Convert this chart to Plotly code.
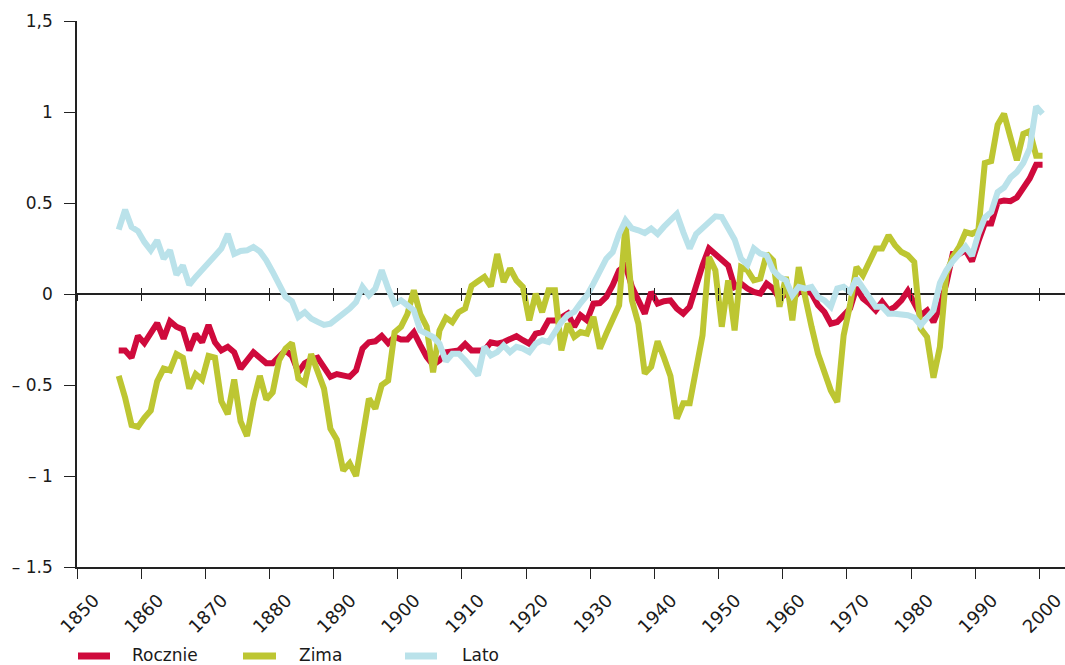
import plotly.graph_objects as go

# Temperature anomalies (°C), annual values 1856-2000
years = list(range(1856, 2001))

rocznie = [
    -0.31, -0.31, -0.35, -0.23, -0.27, -0.21, -0.16, -0.245, -0.15, -0.18,
    -0.195, -0.31, -0.22, -0.265, -0.17, -0.265, -0.31, -0.29, -0.32, -0.41,
    -0.37, -0.32, -0.35, -0.38, -0.38, -0.34, -0.31, -0.34, -0.43, -0.38,
    -0.36, -0.35, -0.41, -0.455, -0.44, -0.445, -0.455, -0.42, -0.30, -0.265,
    -0.26, -0.23, -0.27, -0.235, -0.25, -0.25, -0.21, -0.28, -0.345, -0.39,
    -0.365, -0.32, -0.315, -0.31, -0.275, -0.31, -0.31, -0.31, -0.265, -0.273,
    -0.264, -0.245, -0.232, -0.254, -0.273, -0.218, -0.209, -0.145, -0.145, -0.13,
    -0.108, -0.18, -0.117, -0.145, -0.053, -0.05, -0.016, 0.048, 0.13, 0.157,
    0.039, -0.035, -0.108, 0.011, -0.053, -0.04, -0.035, -0.08, -0.108, -0.07,
    0.05, 0.157, 0.25, 0.222, 0.185, 0.157, 0.039, 0.057, 0.03, 0.011,
    0.002, 0.057, 0.03, -0.025, 0.002, -0.031, 0.011, 0.02, 0.002, -0.062,
    -0.099, -0.163, -0.154, -0.117, -0.08, 0.035, -0.025, -0.053, -0.09, -0.044,
    -0.09, -0.07, -0.035, 0.017, -0.053, -0.117, -0.09, -0.154, -0.07, 0.057,
    0.22, 0.22, 0.24, 0.18, 0.29, 0.387, 0.387, 0.505, 0.514, 0.51,
    0.53, 0.585, 0.635, 0.71, 0.71,
]

zima = [
    -0.45, -0.57, -0.72, -0.73, -0.68, -0.64, -0.48, -0.41, -0.42, -0.33,
    -0.35, -0.52, -0.44, -0.47, -0.34, -0.35, -0.59, -0.66, -0.47, -0.70,
    -0.78, -0.59, -0.45, -0.58, -0.54, -0.365, -0.30, -0.27, -0.465, -0.49,
    -0.33, -0.42, -0.52, -0.74, -0.80, -0.97, -0.93, -1.0, -0.77, -0.575,
    -0.63, -0.50, -0.475, -0.21, -0.18, -0.11, 0.02, -0.11, -0.18, -0.43,
    -0.20, -0.13, -0.155, -0.10, -0.08, 0.045, 0.07, 0.094, 0.042, 0.22,
    0.066, 0.14, 0.075, 0.039, -0.145, 0.002, -0.1, 0.02, 0.02, -0.31,
    -0.163, -0.236, -0.209, -0.218, -0.126, -0.30, -0.218, -0.145, -0.062, 0.387,
    -0.035, -0.163, -0.437, -0.40, -0.26, -0.35, -0.45, -0.685, -0.60, -0.60,
    -0.42, -0.227, 0.203, 0.13, -0.18, 0.075, -0.2, 0.148, 0.13, 0.075,
    0.085, 0.22, 0.185, -0.07, 0.094, -0.145, 0.148, -0.025, -0.18, -0.328,
    -0.43, -0.53, -0.593, -0.227, -0.06, 0.148, 0.103, 0.185, 0.25, 0.25,
    0.322, 0.268, 0.231, 0.213, 0.176, -0.19, -0.236, -0.46, -0.29, 0.112,
    0.204, 0.259, 0.34, 0.33, 0.35, 0.72, 0.73, 0.93, 0.99, 0.86,
    0.735, 0.88, 0.895, 0.76, 0.76,
]

lato = [
    0.354, 0.463, 0.368, 0.346, 0.286, 0.24, 0.295, 0.194, 0.24, 0.106,
    0.157, 0.05, 0.094, 0.13, 0.17, 0.21, 0.25, 0.33, 0.22, 0.236,
    0.24, 0.258, 0.234, 0.185, 0.121, 0.057, -0.015, -0.04, -0.126, -0.1,
    -0.135, -0.153, -0.17, -0.163, -0.14, -0.108, -0.08, -0.044, 0.039, -0.007,
    0.03, 0.13, 0.03, -0.053, -0.035, -0.06, -0.09, -0.2, -0.22, -0.236,
    -0.273, -0.37, -0.328, -0.328, -0.364, -0.40, -0.447, -0.29, -0.337, -0.319,
    -0.282, -0.319, -0.29, -0.30, -0.319, -0.273, -0.254, -0.264, -0.209, -0.154,
    -0.117, -0.099, -0.05, -0.007, 0.057, 0.13, 0.194, 0.23, 0.33, 0.405,
    0.36, 0.35, 0.335, 0.36, 0.33, 0.37, 0.40, 0.44, 0.34, 0.25,
    0.33, 0.36, 0.395, 0.427, 0.423, 0.368, 0.30, 0.194, 0.16, 0.25,
    0.222, 0.212, 0.13, 0.094, 0.075, -0.007, 0.039, 0.03, 0.039, -0.016,
    -0.035, -0.07, 0.03, 0.039, 0.011, 0.085, 0.03, -0.03, -0.07, -0.07,
    -0.108, -0.108, -0.11, -0.117, -0.13, -0.172, -0.13, -0.09, 0.06, 0.13,
    0.18, 0.22, 0.26, 0.21, 0.33, 0.42, 0.45, 0.56, 0.585, 0.64,
    0.67, 0.72, 0.80, 1.03, 0.99,
]

series_names = ["Rocznie", "Zima", "Lato"]
series_colors = ["#CF0A3C", "#BDC632", "#BAE2EA"]

x_ticks = list(range(1850, 2001, 10))
y_ticks = [-1.5, -1, -0.5, 0, 0.5, 1, 1.5]
y_tick_text = ["\u2013 1.5", "\u2013 1", "\u2013 0.5", "0", "0.5", "1", "1,5"]

FONT = "DejaVu Sans"
AXIS = "#222222"
TEXT = "#1a1a1a"

# values are yearly means, placed at mid-year
x_mid = [y + 0.5 for y in years]

fig = go.Figure()
for name, vals, col in zip(series_names, [rocznie, zima, lato], series_colors):
    fig.add_trace(go.Scatter(
        x=x_mid, y=vals, name=name, mode="lines",
        line=dict(color=col, width=6),
        showlegend=False, hoverinfo="skip",
    ))

xr = [1850, 2004]
fig.update_layout(
    width=1065, height=665,
    margin=dict(l=77, r=0, t=21, b=98, autoexpand=False),
    paper_bgcolor="white", plot_bgcolor="white",
    font=dict(family=FONT, size=16, color=TEXT),
    xaxis=dict(
        range=xr, tickvals=x_ticks, ticktext=[str(v) for v in x_ticks],
        tickangle=-45, ticks="outside", ticklen=10, tickwidth=1.3,
        tickcolor=AXIS, showline=True, linecolor=AXIS, linewidth=1.6,
        showgrid=False, zeroline=False, automargin=False,
        tickfont=dict(family=FONT, size=18, color=TEXT),
        ticklabelshift=17, ticklabelstandoff=4,
        ticklabeloverflow="allow",
    ),
    # decade ticks crossing the zero line
    xaxis2=dict(
        range=xr, overlaying="x", anchor="free", position=0.5,
        tickvals=x_ticks, ticks="outside", ticklen=6, tickwidth=1.3,
        tickcolor=AXIS, showticklabels=False, showline=False,
        showgrid=False, zeroline=False, automargin=False,
    ),
    xaxis3=dict(
        range=xr, overlaying="x", anchor="free", position=0.5,
        tickvals=x_ticks, ticks="inside", ticklen=6, tickwidth=1.3,
        tickcolor=AXIS, showticklabels=False, showline=False,
        showgrid=False, zeroline=False, automargin=False,
    ),
    yaxis=dict(
        range=[-1.5, 1.5], tickvals=y_ticks, ticktext=y_tick_text,
        ticks="outside", ticklen=11, tickwidth=1.3, tickcolor=AXIS,
        showline=True, linecolor=AXIS, linewidth=1.6,
        showgrid=False, zeroline=True, zerolinecolor=AXIS, zerolinewidth=1.6,
        tickfont=dict(family=FONT, size=17, color=TEXT),
        ticklabelstandoff=8, automargin=False,
    ),
)

# dummy traces so the overlay axes get drawn
fig.add_trace(go.Scatter(x=[None], y=[None], xaxis="x2", showlegend=False))
fig.add_trace(go.Scatter(x=[None], y=[None], xaxis="x3", showlegend=False))

# legend row below the axis
plot_w = 1065 - 77
plot_h = 665 - 21 - 98
def px_x(p):
    return (p - 77) / plot_w
def px_y(p):
    return (567 - p) / plot_h

leg_y = 655
leg_items = [(78, 110, 130), (243, 276, 297), (405, 437, 460)]
for (x0, x1, tx), name, col in zip(leg_items, series_names, series_colors):
    fig.add_shape(type="line", xref="paper", yref="paper",
                  x0=px_x(x0), x1=px_x(x1), y0=px_y(leg_y + 1), y1=px_y(leg_y + 1),
                  line=dict(color=col, width=7))
    fig.add_annotation(xref="paper", yref="paper", x=px_x(tx), y=px_y(leg_y),
                       text=name, showarrow=False, xanchor="left",
                       yanchor="middle", font=dict(family=FONT, size=17,
                                                   color=TEXT))

fig.write_html("out.html")
